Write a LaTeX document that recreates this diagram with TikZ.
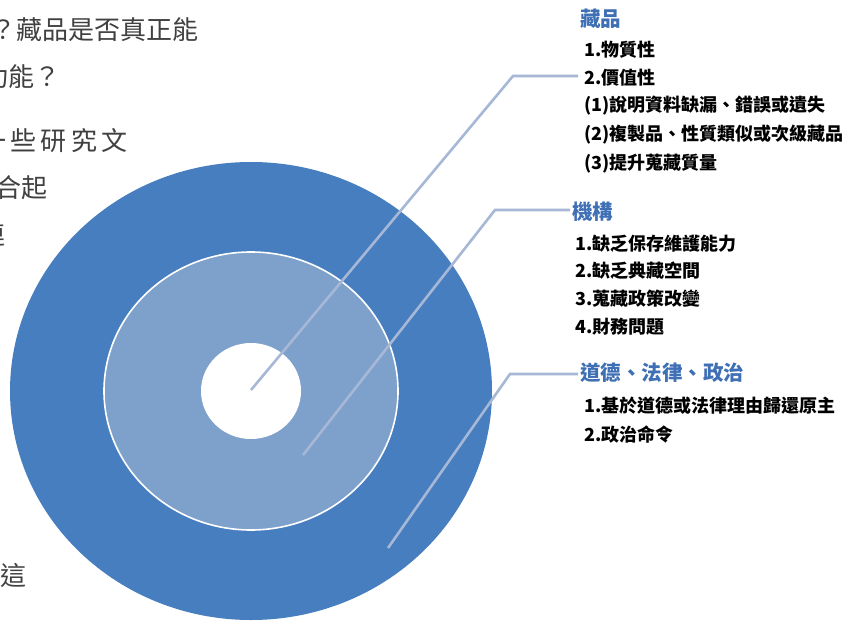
\documentclass[tikz,border=0pt]{standalone}
\usepackage{fontspec}
\newfontfamily\cjk{Noto Sans CJK TC}
\definecolor{ringdark}{HTML}{467EC0}
\definecolor{ringlight}{HTML}{7EA1CB}
\definecolor{leader}{HTML}{A7B8D6}
\definecolor{headblue}{HTML}{3F6FB5}
\definecolor{bodygray}{HTML}{404040}
\begin{document}
\begin{tikzpicture}[x=1pt,y=-1pt]
  \tikzstyle{body}=[anchor=west,inner sep=0pt,text=bodygray,font=\cjk\fontsize{26}{30}\selectfont]
  \tikzstyle{head}=[anchor=west,inner sep=2pt,text=headblue,font=\cjk\bfseries\fontsize{20.5}{24}\selectfont]
  \tikzstyle{item}=[anchor=west,inner sep=0pt,text=black,font=\cjk\bfseries\fontsize{18}{21}\selectfont]
  \tikzstyle{line} = [draw=leader, line width=2.6pt]
  \clip (0,0) rectangle (859,623);
  \fill[white] (0,0) rectangle (859,623);
  % left text, cut by the page edge
  \node[body,anchor=east] (t1) at (199,30) {？藏品是否真正能};
  \node[body] (t2) at (-18,77) {功能？};
  \node[body] (t3) at (-20,141) {一\,些\,研\,究\,文};
  \node[body] (t4) at (-5,188) {合起};
  \node[body,anchor=east] (t5) at (6,235) {連};
  \node[body] (t6) at (0,575) {這};
  % rings
  \fill[ringdark] (251,391) ellipse [x radius=241, y radius=229];
  \filldraw[fill=ringlight,draw=white,line width=1.6pt] (251,391) ellipse [x radius=147, y radius=139];
  \fill[white] (251,391) ellipse [x radius=50, y radius=48];
  % leader points
  \coordinate (p1) at (251,390);
  \coordinate (k1) at (513,76);
  \coordinate (p2) at (303,455);
  \coordinate (k2) at (495,210);
  \coordinate (p3) at (388,548);
  \coordinate (k3) at (510,374);
  % headings
  \node[head] (H1) at (578,19) {藏品};
  \node[head] (H2) at (570,212) {機構};
  \node[head] (H3) at (578,373) {道德、法律、政治};
  \draw[line] (p1) -- (k1) -- (H1.west |- k1);
  \draw[line] (p2) -- (k2) -- (H2.west |- k2);
  \draw[line] (p3) -- (k3) -- (H3.west |- k3);
  % items
  \node[item] (a1) at (584,50) {1.物質性};
  \node[item] (a2) at (584,78) {2.價值性};
  \node[item] (a3) at (584,106) {(1)說明資料缺漏、錯誤或遺失};
  \node[item] (a4) at (584,135) {(2)複製品、性質類似或次級藏品};
  \node[item] (a5) at (584,164) {(3)提升蒐藏質量};
  \node[item] (b1) at (575,244) {1.缺乏保存維護能力};
  \node[item] (b2) at (575,271) {2.缺乏典藏空間};
  \node[item] (b3) at (575,299) {3.蒐藏政策改變};
  \node[item] (b4) at (575,327) {4.財務問題};
  \node[item] (c1) at (584,406) {1.基於道德或法律理由歸還原主};
  \node[item] (c2) at (584,435) {2.政治命令};
\end{tikzpicture}
\end{document}
